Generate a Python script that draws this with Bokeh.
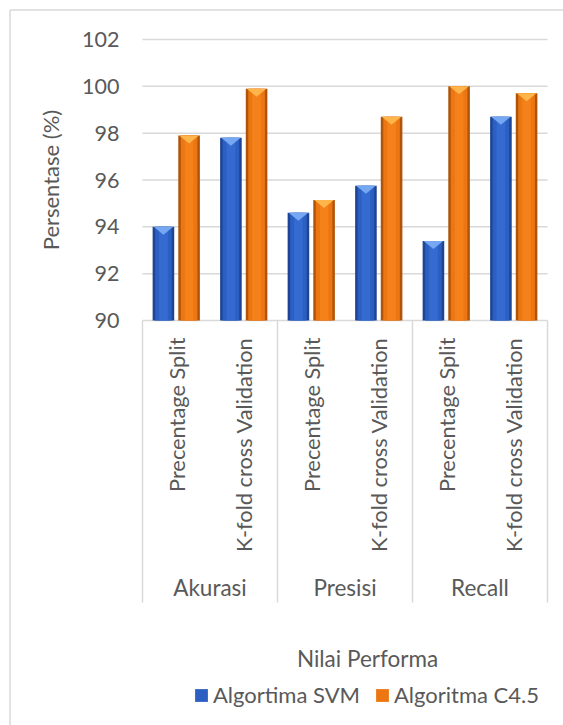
import math
from bokeh.plotting import figure
from bokeh.models import Range1d, ColumnDataSource, Legend, LegendItem
from bokeh.core.properties import value
from bokeh.embed import file_html
from bokeh.resources import INLINE

# ---------------- data ----------------
groups = ["Akurasi", "Presisi", "Recall"]
methods = ["Precentage Split", "K-fold cross Validation"]
svm = [94.0, 97.8, 94.6, 95.75, 93.4, 98.7]
c45 = [97.9, 99.9, 95.15, 98.7, 100.0, 99.7]
y_ticks = [90, 92, 94, 96, 98, 100, 102]
series_names = ["Algortima SVM", "Algoritma C4.5"]
y_title = "Persentase (%)"
x_title = "Nilai Performa"

# ---------------- layout (pixels) ----------------
W, H = 563, 725
PX_LEFT, PX_RIGHT = 142, 547
PX_TOP, PX_BOTTOM = 39, 320
n_cat = len(groups) * len(methods)
ux = (PX_RIGHT - PX_LEFT) / n_cat
uy = (PX_BOTTOM - PX_TOP) / (y_ticks[-1] - y_ticks[0])
base = y_ticks[0]


def X(px):
    return (px - PX_LEFT) / ux


def Y(py):
    return base + (PX_BOTTOM - py) / uy


FONT = "Lato"
TXT = "#595959"
GRID = "#d9d9d9"

p = figure(width=W, height=H, x_range=Range1d(X(0), X(W)), y_range=Range1d(Y(H), Y(0)),
           min_border=0, x_axis_location=None, y_axis_location=None,
           output_backend="svg", toolbar_location=None)
p.grid.visible = False
p.outline_line_color = None
p.background_fill_color = "white"
p.border_fill_color = "white"

# outer chart border (left and top visible)
p.segment(x0=[X(9.5), X(9.5)], y0=[Y(9.5), Y(9.5)], x1=[X(9.5), X(W)], y1=[Y(H), Y(9.5)],
          line_color=GRID, line_width=1.5)

# gridlines
p.segment(x0=[0] * len(y_ticks), x1=[n_cat] * len(y_ticks), y0=y_ticks, y1=y_ticks,
          line_color=GRID, line_width=1.5)

# category separators
seps = list(range(0, n_cat + 1, len(methods)))
p.segment(x0=seps, x1=seps, y0=[base] * len(seps), y1=[Y(602)] * len(seps),
          line_color=GRID, line_width=1.5)

# y tick labels
p.text(x=[X(119)] * len(y_ticks), y=y_ticks, text=[str(t) for t in y_ticks],
       text_align="right", text_baseline="middle", text_font=value(FONT),
       text_font_size="21.5px", text_color=TXT)

# y axis title
p.text(x=[X(50)], y=[(y_ticks[0] + y_ticks[-1]) / 2], text=[y_title], angle=math.pi / 2,
       text_align="center", text_baseline="middle", text_font=value(FONT),
       text_font_size="22px", text_color=TXT)

# bars
centers = [k + 0.5 for k in range(n_cat)]
bw = 0.32
off = 0.19
styles = [
    # edge, mid, light, bevel
    ("#1d4594", "#2b5fc2", "#3a70d6", "#76a7f3"),
    ("#b0540a", "#ec7712", "#f8861e", "#ffb54a"),
]
renderers = []
for s, (vals, sign) in enumerate([(svm, -1), (c45, 1)]):
    edge, mid, light, bevel = styles[s]
    cx = [c + sign * off for c in centers]
    src = ColumnDataSource(dict(
        left=[c - bw / 2 for c in cx], right=[c + bw / 2 for c in cx],
        l2=[c - bw / 2 + 2.5 / ux for c in cx], r2=[c + bw / 2 - 2.5 / ux for c in cx],
        l3=[c - bw / 2 + 6.5 / ux for c in cx], r3=[c + bw / 2 - 6.5 / ux for c in cx],
        top=vals, bottom=[base] * len(vals)))
    p.quad(left="left", right="right", top="top", bottom="bottom", source=src,
           fill_color=edge, line_color=None)
    r = p.quad(left="l2", right="r2", top="top", bottom="bottom", source=src,
               fill_color=mid, line_color=None)
    p.quad(left="l3", right="r3", top="top", bottom="bottom", source=src,
           fill_color=light, line_color=None, fill_alpha=0.7)
    xs = [[c - bw / 2 + 1 / ux, c + bw / 2 - 1 / ux, c] for c in cx]
    ys = [[v, v, v - 8 / uy] for v in vals]
    p.patches(xs=xs, ys=ys, fill_color=bevel, line_color=None)
    renderers.append(r)

# category labels (rotated)
p.text(x=centers, y=[Y(337)] * n_cat, text=methods * len(groups), angle=math.pi / 2,
       text_align="right", text_baseline="middle", text_font=value(FONT),
       text_font_size="21.8px", text_color=TXT)

# group labels
p.text(x=[g * len(methods) + len(methods) / 2 for g in range(len(groups))],
       y=[Y(587)] * len(groups), text=groups, text_align="center", text_baseline="middle",
       text_font=value(FONT), text_font_size="22.5px", text_color=TXT)

# x axis title
p.text(x=[X(367)], y=[Y(658)], text=[x_title], text_align="center", text_baseline="middle",
       text_font=value(FONT), text_font_size="22.5px", text_color=TXT)

legend = Legend(items=[LegendItem(label=series_names[i], renderers=[renderers[i]]) for i in range(2)],
                orientation="horizontal", location=(193, 17), padding=0, margin=0,
                glyph_width=16, glyph_height=16, label_standoff=4, spacing=14,
                border_line_color=None, background_fill_alpha=0,
                label_text_font=FONT, label_text_font_size="22px", label_text_color=TXT)
p.add_layout(legend)

open("out.html", "w").write(file_html(p, INLINE))
